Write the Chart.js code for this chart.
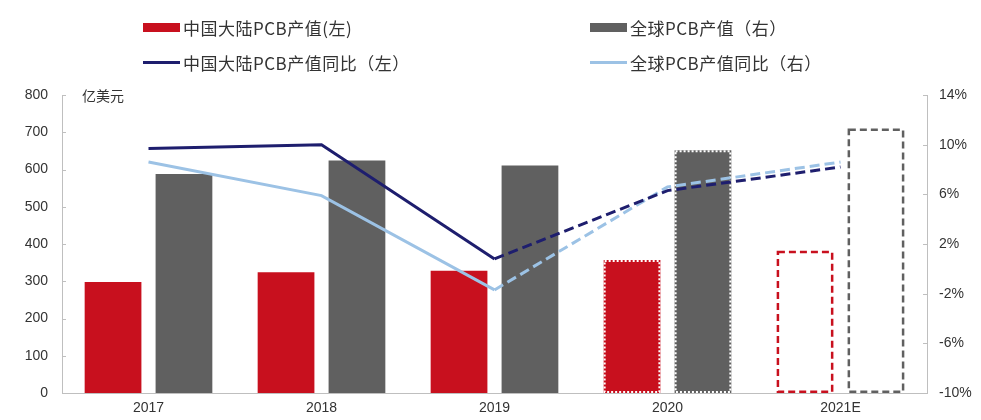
<!DOCTYPE html>
<html lang="zh-CN">
  <head>
    <meta charset="UTF-8" />
    <title>PCB产值</title>
    <style>
      * {
        border: none;
        padding: 0px;
        margin: 0px;
        box-sizing: border-box;
      }
      body { background: #fff; }
      #grafico {
        position: relative;
        width: 981px;
        height: 420px;
      }
      .leg {
        position: absolute;
        display: flex;
        align-items: center;
        font-family: "Noto Sans CJK SC", "Noto Sans", sans-serif;
        font-size: 17px;
        letter-spacing: 0.5px;
        color: #333;
        white-space: nowrap;
      }
      .leg span.box { display: inline-block; width: 37px; margin-right: 3px; }
    </style>
  </head>
  <body>
    <div id="grafico">
      <canvas id="grafico1" width="981" height="420"></canvas>
      <div id="legenda"></div>
    </div>

    <script src="https://cdn.jsdelivr.net/npm/chart.js"></script>
    <script>
      const anos = ['2017', '2018', '2019', '2020', '2021E']
      const chinaValor = [298, 324, 328, 357, 382]
      const globalValor = [588, 624, 611, 652, 710]
      const chinaYoY = [9.7, 10.0, 0.8, 6.3, 8.2]
      const globalYoY = [8.6, 5.9, -1.7, 6.6, 8.6]
      const unidade = '亿美元'

      const vermelho = '#c8101e'
      const cinza = '#606060'
      const azulEscuro = '#1e1e6e'
      const azulClaro = '#9cc2e5'

      // 2020 = preenchido com borda pontilhada, 2021E = só contorno tracejado
      const estiloBarra = {
        id: 'estiloBarra',
        afterDatasetDraw(chart, args) {
          const ds = chart.data.datasets[args.index]
          if (ds.type !== 'bar') return
          const c = chart.ctx
          args.meta.data.forEach((bar, i) => {
            const left = bar.x - bar.width / 2
            const top = bar.y
            const h = bar.base - bar.y
            c.save()
            if (i === 3) {
              c.strokeStyle = '#ffffff'
              c.lineWidth = 2
              c.setLineDash([2, 2])
              c.strokeRect(left + 1, top + 1, bar.width - 2, h - 2)
            }
            if (i === 4) {
              c.strokeStyle = ds.corBorda
              c.lineWidth = 2.5
              c.setLineDash([7, 4])
              c.strokeRect(left + 1.25, top + 1.25, bar.width - 2.5, h - 2.5)
            }
            c.restore()
          })
        }
      }

      const extras = {
        id: 'extras',
        afterDraw(chart) {
          const c = chart.ctx
          const y = chart.scales.y
          const y1 = chart.scales.y1
          c.save()
          c.strokeStyle = '#bfbfbf'
          c.lineWidth = 1
          y.ticks.forEach((t, i) => {
            const py = Math.round(y.getPixelForTick(i)) + 0.5
            c.beginPath(); c.moveTo(y.right, py); c.lineTo(y.right + 4, py); c.stroke()
          })
          y1.ticks.forEach((t, i) => {
            const py = Math.round(y1.getPixelForTick(i)) + 0.5
            c.beginPath(); c.moveTo(y1.left - 4, py); c.lineTo(y1.left, py); c.stroke()
          })
          c.fillStyle = '#333'
          c.font = '14px "Noto Sans CJK SC", sans-serif'
          c.textBaseline = 'middle'
          c.fillText(unidade, chart.chartArea.left + 20, y.top + 1)
          c.restore()
        }
      }

      const ctx = document.getElementById('grafico1')
      const fonteTick = { family: 'Liberation Sans, Arial, sans-serif', size: 14 }

      let grafico1 = new Chart(ctx, {
        data: {
          labels: anos,
          datasets: [
            {
              type: 'line', label: '中国大陆PCB产值同比（左）', data: chinaYoY, yAxisID: 'y1',
              borderColor: azulEscuro, borderWidth: 3, pointRadius: 0, order: 0, tension: 0,
              segment: { borderDash: s => s.p0DataIndex >= 2 ? [10, 5] : undefined }
            },
            {
              type: 'line', label: '全球PCB产值同比（右）', data: globalYoY, yAxisID: 'y1',
              borderColor: azulClaro, borderWidth: 3, pointRadius: 0, order: 0, tension: 0,
              segment: { borderDash: s => s.p0DataIndex >= 2 ? [10, 5] : undefined }
            },
            {
              type: 'bar', label: '中国大陆PCB产值(左)', data: chinaValor, yAxisID: 'y',
              backgroundColor: [vermelho, vermelho, vermelho, vermelho, '#ffffff'],
              corBorda: vermelho, borderWidth: 0, order: 1,
              categoryPercentage: 0.82, barPercentage: 0.8
            },
            {
              type: 'bar', label: '全球PCB产值（右）', data: globalValor, yAxisID: 'y',
              backgroundColor: [cinza, cinza, cinza, cinza, '#ffffff'],
              corBorda: cinza, borderWidth: 0, order: 1,
              categoryPercentage: 0.82, barPercentage: 0.8
            }
          ]
        },
        options: {
          responsive: false,
          animation: false,
          layout: { padding: { top: 95, left: 0, right: 0, bottom: 0 } },
          plugins: { legend: { display: false }, tooltip: { enabled: false } },
          scales: {
            x: {
              grid: { display: false, drawTicks: false },
              border: { color: '#bfbfbf' },
              ticks: { color: '#333', font: fonteTick, padding: 7 },
              afterFit: s => { s.height = 27 }
            },
            y: {
              position: 'left', min: 0, max: 800,
              grid: { display: false, drawTicks: false },
              border: { color: '#bfbfbf' },
              ticks: { stepSize: 100, color: '#333', font: fonteTick, padding: 14 },
              afterFit: s => { s.width = 62 }
            },
            y1: {
              position: 'right', min: -10, max: 14,
              grid: { display: false, drawTicks: false },
              border: { color: '#bfbfbf' },
              ticks: { stepSize: 4, color: '#333', font: fonteTick, padding: 12, callback: v => v + '%' },
              afterFit: s => { s.width = 54 }
            }
          }
        },
        plugins: [estiloBarra, extras]
      })

      // legenda em duas colunas, como no original
      const posLegenda = [
        { ds: 2, x: 143, y: 27, linha: false },
        { ds: 3, x: 590, y: 27, linha: false },
        { ds: 0, x: 143, y: 62, linha: true },
        { ds: 1, x: 590, y: 62, linha: true }
      ]
      const leg = document.getElementById('legenda')
      posLegenda.forEach(p => {
        const ds = grafico1.data.datasets[p.ds]
        const cor = ds.type === 'bar' ? ds.corBorda : ds.borderColor
        const d = document.createElement('div')
        d.className = 'leg'
        d.style.left = p.x + 'px'
        d.style.top = (p.y - 12) + 'px'
        d.style.height = '24px'
        d.innerHTML = '<span class="box" style="height:' + (p.linha ? 3 : 9) + 'px;background:' + cor + '"></span>' + ds.label
        leg.appendChild(d)
      })
    </script>
  </body>
</html>
